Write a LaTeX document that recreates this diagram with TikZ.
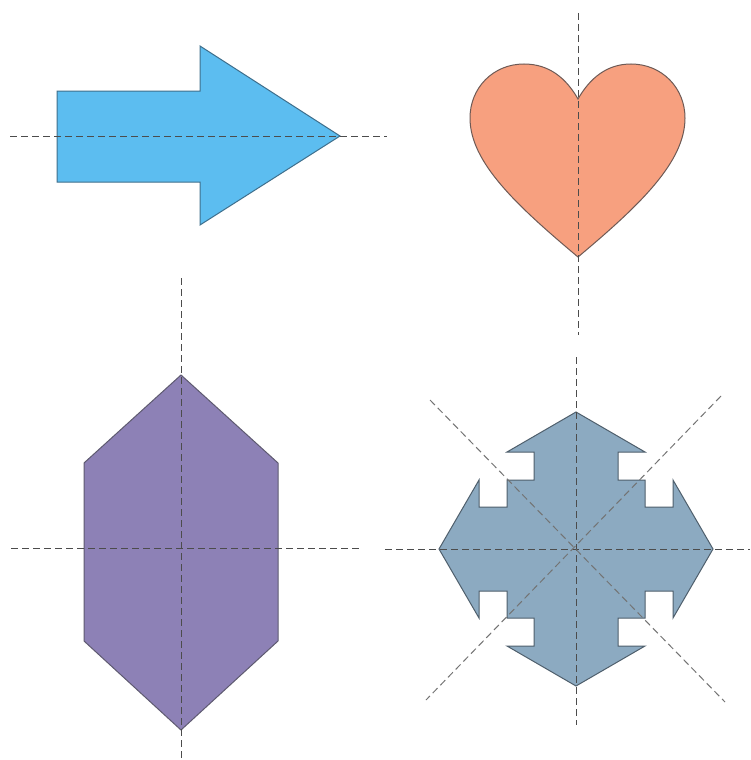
\documentclass[tikz,border=0pt]{standalone}
\begin{document}
\begin{tikzpicture}[x=1pt,y=-1pt,
  axisline/.style={draw=black!70, line width=1pt, dash pattern=on 7pt off 4pt},
  shapeline/.style={line width=1pt, line join=miter}]
\definecolor{arrowblue}{HTML}{5CBDF0}
\definecolor{arrowedge}{HTML}{3F6F8C}
\definecolor{heartfill}{HTML}{F7A07F}
\definecolor{heartedge}{HTML}{6E5A55}
\definecolor{hexfill}{HTML}{8D81B6}
\definecolor{hexedge}{HTML}{5E5A70}
\definecolor{crossfill}{HTML}{8CAAC1}
\definecolor{crossedge}{HTML}{4F5F6C}
\useasboundingbox (0,0) rectangle (750,760);
\fill[white] (0,0) rectangle (750,760);

% ---------- arrow ----------
\draw[shapeline, fill=arrowblue, draw=arrowedge]
  (57,91) -- (200,91) -- (200,46) -- (340,136) -- (200,225) -- (200,182) -- (57,182) -- cycle;
\coordinate (aL) at (10,136);
\coordinate (aR) at (387,136);
\draw[axisline] (aL) -- (aR);

% ---------- heart ----------
\draw[shapeline, fill=heartfill, draw=heartedge]
  (578,99) .. controls (590,78) and (607,64) .. (631,64)
  .. controls (662,64) and (685,88) .. (685,118)
  .. controls (685,162) and (640,205) .. (578,257)
  .. controls (516,205) and (470,162) .. (470,118)
  .. controls (470,88) and (493,64) .. (524,64)
  .. controls (549,64) and (566,78) .. (578,99) -- cycle;
\coordinate (hT) at (578,13);
\coordinate (hB) at (578,335);
\draw[axisline] (hT) -- (hB);

% ---------- hexagon ----------
\draw[shapeline, fill=hexfill, draw=hexedge]
  (181,375) -- (278,463) -- (278,641) -- (181,730) -- (84,641) -- (84,463) -- cycle;
\coordinate (xL) at (11,548);
\coordinate (xR) at (362,548);
\coordinate (xT) at (181,278);
\coordinate (xB) at (181,760);
\draw[axisline] (xL) -- (xR);
\draw[axisline] (xT) -- (xB);

% ---------- cross of four arrows ----------
\begin{scope}[shift={(576,549)}]
\def\ca{42}\def\cb{69}\def\cq{97}\def\cT{137}
\draw[shapeline, fill=crossfill, draw=crossedge]
  (0,-\cT) -- (\cb,-\cq) -- (\ca,-\cq) -- (\ca,-\cb) -- (\cb,-\cb) -- (\cb,-\ca) -- (\cq,-\ca) -- (\cq,-\cb)
  -- (\cT,0) -- (\cq,\cb) -- (\cq,\ca) -- (\cb,\ca) -- (\cb,\cb) -- (\ca,\cb) -- (\ca,\cq) -- (\cb,\cq)
  -- (0,\cT) -- (-\cb,\cq) -- (-\ca,\cq) -- (-\ca,\cb) -- (-\cb,\cb) -- (-\cb,\ca) -- (-\cq,\ca) -- (-\cq,\cb)
  -- (-\cT,0) -- (-\cq,-\cb) -- (-\cq,-\ca) -- (-\cb,-\ca) -- (-\cb,-\cb) -- (-\ca,-\cb) -- (-\ca,-\cq) -- (-\cb,-\cq)
  -- cycle;
\end{scope}
\coordinate (cL) at (385,549);
\coordinate (cR) at (750,549);
\coordinate (cT) at (576,357);
\coordinate (cB) at (576,725);
\coordinate (cUL) at (430,400);
\coordinate (cLR) at (725,702);
\coordinate (cUR) at (721,396);
\coordinate (cLL) at (426,700);
\draw[axisline] (cL) -- (cR);
\draw[axisline] (cT) -- (cB);
\draw[axisline, draw=black!55] (cUL) -- (cLR);
\draw[axisline, draw=black!55] (cUR) -- (cLL);
\end{tikzpicture}
\end{document}
